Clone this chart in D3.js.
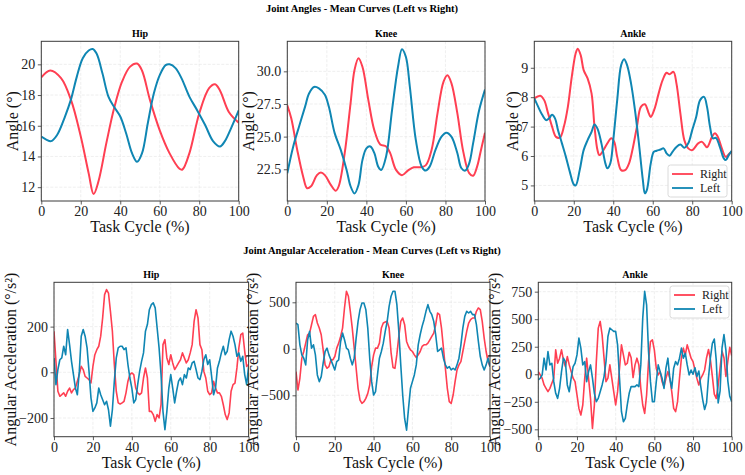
<!DOCTYPE html>
<html>
<head>
<meta charset="utf-8">
<script src="https://cdn.jsdelivr.net/npm/d3@7"></script>
<style>
  body { margin: 0; background: #fff; }
  svg text { font-family: "Liberation Serif", "Times New Roman", serif; }
</style>
</head>
<body>
<div id="chart"></div>
<script>
// Joint angles: [task cycle %, angle °]
const hipAngleRight = [[0,19.15],[4.5,19.6],[10,19.1],[15,17.7],[20,15.3],[24,12.9],[26.5,11.55],[29,12.4],[33,14.9],[37,17.2],[41,18.9],[45,19.85],[48.5,20.05],[51,19.6],[55,17.7],[60,15.7],[65,14.2],[70,13.2],[71.5,13.15],[75,14.2],[80,16.8],[85,18.45],[88,18.7],[90.5,18.3],[95,16.9],[100,16.2]];
const hipAngleLeft = [[0,15.3],[2.5,15.1],[5,15.0],[8,15.4],[12,16.6],[15,17.7],[18,19.2],[21,20.4],[24,20.9],[26,21.0],[28,20.7],[31,19.4],[34,17.9],[37,17.2],[40,16.6],[43,15.5],[46,14.2],[48.5,13.65],[51,14.2],[54,16.2],[57,18.1],[60,19.3],[63,19.95],[65,20.0],[68,19.75],[71,19.1],[75,17.9],[79,17.0],[83,16.05],[87,15.0],[90.5,14.65],[93,15.0],[96,15.8],[100,17.0]];
const kneeAngleRight = [[0,27.4],[2,26.4],[5,24.0],[8,21.95],[10,21.05],[12,21.2],[15,22.05],[17,22.25],[19,22.05],[22,21.3],[24.5,20.85],[26,21.2],[29,23.7],[32,27.55],[34,30.1],[36,31.0],[38,30.35],[41,27.8],[44,25.5],[47,24.4],[50,24.25],[52,23.75],[55,22.45],[58,22.05],[61,22.4],[64,22.65],[67,22.65],[70,22.8],[73,24.0],[76,26.8],[79,29.2],[81,29.7],[83,29.1],[86,26.8],[89,23.85],[92,22.2],[94,22.0],[96,22.7],[98,24.0],[100,25.3]];
const kneeAngleLeft = [[0,22.2],[3,24.25],[6,25.8],[9,27.3],[11,28.3],[13.5,28.8],[16,28.7],[19,28.2],[21,27.3],[24,25.25],[27,24.0],[30,22.45],[32,21.2],[34,20.65],[36,21.3],[38,23.2],[40,24.1],[42,24.25],[44,23.75],[46,22.7],[47.5,22.45],[50,23.5],[53,27.05],[56,30.35],[58,31.7],[60,31.1],[62,28.8],[65,24.75],[68,22.7],[70,22.4],[72,22.7],[75,24.0],[78,25.0],[80.5,25.3],[83,25.0],[86,23.75],[88,22.6],[90,22.4],[92,22.95],[94,24.5],[97,27.0],[100,28.6]];
const ankleAngleRight = [[0,7.96],[3,8.05],[5,7.9],[7,7.45],[9,7.0],[11,6.65],[13,6.63],[15,7.0],[17,7.67],[19,8.7],[21,9.5],[22,9.65],[23.5,9.43],[25,8.92],[27,8.64],[29,8.13],[30.5,7.0],[32,6.2],[33,6.03],[35,6.2],[37,6.43],[39,6.6],[40.5,6.48],[42,5.97],[44,5.52],[46,5.52],[48,5.75],[50,6.3],[52,7.0],[54,7.67],[56,7.76],[58,7.45],[59,7.33],[61,7.62],[63,8.13],[65,8.58],[67,8.83],[68.5,8.78],[70.5,8.86],[72,8.47],[74,7.45],[76,6.54],[78,6.26],[80,6.2],[83,6.43],[85,6.48],[87.5,6.3],[90,6.65],[91.5,6.77],[93,6.65],[95,6.26],[97,5.97],[99,6.09],[100,6.14]];
const ankleAngleLeft = [[0,7.96],[2,7.67],[4,7.4],[6,7.22],[7.5,7.28],[9,7.4],[10.5,7.28],[12,6.88],[14,6.43],[16,5.97],[18,5.46],[20,5.03],[21,5.0],[23,5.52],[25,6.2],[27,6.54],[29,6.82],[30.5,7.07],[32,6.93],[34,6.43],[36,5.75],[37,5.58],[38.5,5.75],[40,6.54],[42,7.9],[44,9.09],[45.5,9.29],[47,9.09],[49,8.47],[51,7.56],[53,6.43],[55,5.18],[56,4.73],[57,4.84],[59,5.75],[60.5,6.14],[62,6.18],[64,6.22],[65.5,6.26],[67,6.09],[68.5,6.01],[70,6.14],[72,6.31],[74,6.39],[76,6.28],[78,6.43],[80,6.88],[82,7.33],[84,7.9],[86,8.01],[87.5,7.67],[89,7.0],[90.5,6.6],[92,6.62],[94,6.31],[96,5.92],[97,5.86],[98.5,6.03],[100,6.18]];

// Joint angular accelerations (°/s²), one value per 1 % of task cycle (0..100)
const hipAccRight = [180,48,-83,-105,-98,-90,-105,-83,-69,-90,-76,-69,-39,-10,26,12,-18,-25,-32,-47,26,77,99,114,158,238,340,362,347,267,180,34,-83,-134,-139,-134,-127,-90,-39,-10,-3,-10,-69,-90,-98,-90,-25,19,-25,-171,-171,-185,-215,-185,-200,-142,121,143,63,34,77,41,12,26,41,55,85,63,41,55,85,121,223,274,238,121,99,4,-25,-83,-98,-90,-39,-69,-90,-90,-105,-142,-185,-207,-178,-83,-54,-47,19,107,165,172,92,26,34];
const hipAccLeft = [63,-54,12,55,63,114,77,187,121,48,-10,-69,-98,4,158,187,158,107,4,-112,-171,-156,-134,-69,-98,-120,-142,-127,-164,-236,-164,-39,63,107,114,114,99,107,34,-25,-69,-134,-120,-54,4,48,85,180,209,274,296,304,282,194,107,-10,-171,-251,-171,-69,-10,-69,-134,-83,-39,-25,-54,-10,-25,19,12,41,48,12,-25,-32,4,55,77,34,55,-18,-98,-69,19,48,85,114,77,92,143,180,158,121,70,85,48,70,-10,-54,26];
const kneeAccRight = [-245,-443,-317,-100,-29,61,151,169,259,349,367,277,223,151,-11,-173,-209,-191,-119,-119,-83,7,61,133,223,439,619,565,403,223,7,-209,-425,-551,-587,-569,-533,-479,-389,-191,-65,7,7,61,223,277,288,295,223,-40,-200,-210,-60,133,295,331,259,79,25,-11,-29,-65,-94,-65,-29,25,43,43,61,97,133,169,259,385,367,223,7,-209,-425,-569,-587,-497,-353,-227,-173,-137,-29,79,187,277,313,331,331,403,439,421,295,115,-29,-137,-191];
const kneeAccLeft = [277,259,43,-65,-101,-173,97,187,7,43,-65,-281,-353,-299,-155,-29,7,-65,-119,-173,-227,-137,-119,79,169,97,7,-11,-101,-173,-101,115,295,421,493,493,421,223,-101,-353,-497,-461,-281,-101,-29,61,187,295,457,565,619,619,475,187,-173,-497,-749,-875,-641,-425,-353,-281,-173,43,151,241,313,403,475,403,367,295,151,-29,-11,7,-101,-173,-209,-191,-227,-209,-227,-173,-101,43,223,349,403,385,403,367,367,259,79,-83,-173,-227,-173,-101,-191];
const ankleAccRight = [24,-6,-36,-97,-128,-158,-128,-82,-36,222,100,146,222,130,70,161,85,24,-36,-67,-188,-310,-370,-279,-36,146,-36,-219,-492,-279,115,419,480,358,146,-67,-36,85,-36,-158,-279,-158,55,267,176,85,100,200,150,-30,85,146,85,-128,-279,-355,-188,115,297,313,222,55,-6,24,-67,-112,-36,24,-36,-158,-310,-340,-249,-36,146,237,176,267,206,146,115,39,-36,-97,-36,-6,39,150,225,130,-20,-180,-220,-100,60,210,150,-20,120,245,170];
const ankleAccLeft = [-52,-36,-6,146,39,206,85,100,-67,-173,-219,-128,24,146,115,-97,-158,-36,70,100,176,328,237,85,115,-67,24,85,-36,-173,-249,-219,-158,-97,-21,115,343,419,404,389,389,267,-36,-340,-431,-401,-279,-173,-112,-112,-112,-97,-112,85,510,753,631,206,-67,-249,-249,-67,85,24,-36,-128,55,146,-36,-128,55,115,85,146,237,146,191,85,-6,39,0,60,-20,30,-110,-230,-320,-260,-30,150,280,320,130,-260,-150,240,360,220,-60,-200,-250];

const cycleTicks = [0, 20, 40, 60, 80, 100];
const seriesNames = ["Right", "Left"];
const colors = { Right: "#ff3f52", Left: "#0f86b3" };

const W = 745, H = 475;
const svg = d3.select("#chart").append("svg")
  .attr("width", W).attr("height", H)
  .attr("viewBox", `0 0 ${W} ${H}`);

const toPairs = arr => arr.map((v, i) => [i, v]);

const panels = [
  {title: "Hip", box: {l: 41.3, r: 238.7, t: 41.3, b: 201}, y: [11.1, 21.5], yTicks: [12,14,16,18,20], fmt: d3.format("d"),
   ylabel: "Angle (°)", right: hipAngleRight, left: hipAngleLeft, smooth: true},
  {title: "Knee", box: {l: 287.3, r: 485, t: 41.3, b: 201}, y: [20.07, 32.3], yTicks: [22.5,25,27.5,30], fmt: d3.format(".1f"),
   ylabel: "Angle (°)", right: kneeAngleRight, left: kneeAngleLeft, smooth: true},
  {title: "Ankle", box: {l: 534.3, r: 731.7, t: 41.3, b: 201}, y: [4.47, 9.9], yTicks: [5,6,7,8,9], fmt: d3.format("d"),
   ylabel: "Angle (°)", right: ankleAngleRight, left: ankleAngleLeft, smooth: true,
   legend: {x: 668, y: 165}},
  {title: "Hip", box: {l: 54, r: 248.6, t: 282.3, b: 436.7}, y: [-282, 394], yTicks: [-200,0,200], fmt: d3.format("d"),
   ylabel: "Angular Acceleration (°/s²)", right: toPairs(hipAccRight), left: toPairs(hipAccLeft)},
  {title: "Knee", box: {l: 296, r: 490, t: 282.3, b: 436.7}, y: [-945, 715], yTicks: [-500,0,500], fmt: d3.format("d"),
   ylabel: "Angular Acceleration (°/s²)", right: toPairs(kneeAccRight), left: toPairs(kneeAccLeft)},
  {title: "Ankle", box: {l: 538.3, r: 731.7, t: 282.3, b: 436.7}, y: [-567, 835], yTicks: [-500,-250,0,250,500,750], fmt: d3.format("d"),
   ylabel: "Angular Acceleration (°/s²)", right: toPairs(ankleAccRight), left: toPairs(ankleAccLeft),
   legend: {x: 670, y: 286}}
];

// Figure titles
svg.append("text").attr("x", 362).attr("y", 12).attr("text-anchor", "middle")
  .style("font-size", "10.5px").style("font-weight", "bold")
  .text("Joint Angles - Mean Curves (Left vs Right)");
svg.append("text").attr("x", 372).attr("y", 254).attr("text-anchor", "middle")
  .style("font-size", "10.5px").style("font-weight", "bold")
  .text("Joint Angular Acceleration - Mean Curves (Left vs Right)");

panels.forEach((p, idx) => {
  const b = p.box;
  const g = svg.append("g");
  const x = d3.scaleLinear().domain([0, 100]).range([b.l, b.r]);
  const y = d3.scaleLinear().domain(p.y).range([b.b, b.t]);

  // Grid
  g.append("g").selectAll("line").data(cycleTicks).join("line")
    .attr("x1", d => x(d)).attr("x2", d => x(d)).attr("y1", b.t).attr("y2", b.b)
    .attr("stroke", "#e8e8e8").attr("stroke-width", 0.7).attr("stroke-dasharray", "3,1.5");
  g.append("g").selectAll("line").data(p.yTicks).join("line")
    .attr("x1", b.l).attr("x2", b.r).attr("y1", d => y(d)).attr("y2", d => y(d))
    .attr("stroke", "#e8e8e8").attr("stroke-width", 0.7).attr("stroke-dasharray", "3,1.5");

  // Clip
  const clipId = "clip" + idx;
  svg.append("clipPath").attr("id", clipId).append("rect")
    .attr("x", b.l).attr("y", b.t).attr("width", b.r - b.l).attr("height", b.b - b.t);

  const line = d3.line().x(d => x(d[0])).y(d => y(d[1]))
    .curve(p.smooth ? d3.curveCatmullRom.alpha(0.5) : d3.curveLinear);

  seriesNames.forEach(name => {
    g.append("path")
      .datum(name === "Right" ? p.right : p.left)
      .attr("clip-path", `url(#${clipId})`)
      .attr("fill", "none")
      .attr("stroke", colors[name])
      .attr("stroke-width", p.smooth ? 2 : 1.6)
      .attr("stroke-linejoin", "round")
      .attr("d", line);
  });

  // Axes
  const xAxis = g.append("g").attr("transform", `translate(0,${b.b})`)
    .call(d3.axisBottom(x).tickValues(cycleTicks).tickSize(3.5).tickPadding(2));
  const yAxis = g.append("g").attr("transform", `translate(${b.l},0)`)
    .call(d3.axisLeft(y).tickValues(p.yTicks).tickFormat(p.fmt).tickSize(3.5).tickPadding(2.5));
  [xAxis, yAxis].forEach(a => {
    a.select(".domain").remove();
    a.selectAll(".tick line").attr("stroke", "#333").attr("stroke-width", 0.8);
    a.selectAll(".tick text").attr("fill", "#222")
      .style("font-family", "'Liberation Serif', serif").style("font-size", "14px");
  });

  // Spines
  g.append("rect").attr("x", b.l).attr("y", b.t).attr("width", b.r - b.l).attr("height", b.b - b.t)
    .attr("fill", "none").attr("stroke", "#3a3a3a").attr("stroke-width", 1);

  // Subplot title
  g.append("text").attr("x", (b.l + b.r) / 2).attr("y", b.t - 4).attr("text-anchor", "middle")
    .style("font-size", "10px").style("font-weight", "bold").text(p.title);

  // Axis labels
  g.append("text").attr("x", (b.l + b.r) / 2).attr("y", b.b + 31).attr("text-anchor", "middle")
    .style("font-size", "16px").attr("fill", "#111").text("Task Cycle (%)");

  let maxW = 0;
  yAxis.selectAll(".tick text").each(function() { maxW = Math.max(maxW, this.getBBox().width); });
  const lx = b.l - 3.5 - 2.5 - maxW - 8;
  g.append("text")
    .attr("transform", `translate(${lx},${(b.t + b.b) / 2}) rotate(-90)`)
    .attr("text-anchor", "middle").attr("dy", "0.3em")
    .style("font-size", "16px").attr("fill", "#111").text(p.ylabel);

  // Legend
  if (p.legend) {
    const lg = g.append("g").attr("transform", `translate(${p.legend.x},${p.legend.y})`);
    lg.append("rect").attr("width", 59).attr("height", 32).attr("rx", 2.5)
      .attr("fill", "#fff").attr("fill-opacity", 0.85).attr("stroke", "#d0d0d0").attr("stroke-width", 0.8);
    seriesNames.forEach((name, i) => {
      const yy = 9 + i * 14;
      lg.append("line").attr("x1", 4).attr("x2", 25).attr("y1", yy).attr("y2", yy)
        .attr("stroke", colors[name]).attr("stroke-width", 1.8);
      lg.append("text").attr("x", 32).attr("y", yy).attr("dy", "0.35em")
        .style("font-size", "12px").attr("fill", "#222").text(name);
    });
  }
});
</script>
</body>
</html>
